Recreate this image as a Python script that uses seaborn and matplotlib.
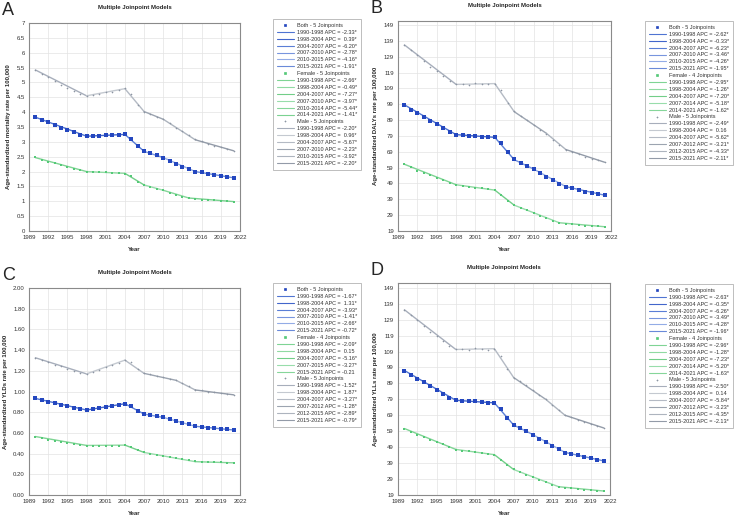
import matplotlib
matplotlib.use("Agg")
import matplotlib.pyplot as plt
from matplotlib.lines import Line2D
import seaborn as sns
import pandas as pd

# ---------------- data -------------------------------------------------
years = list(range(1990, 2022))

# A: mortality
a_both = [3.84, 3.75, 3.66, 3.57, 3.48, 3.41, 3.32, 3.24, 3.19, 3.19, 3.21, 3.23, 3.22, 3.23, 3.25, 3.11,
          2.85, 2.68, 2.62, 2.55, 2.47, 2.36, 2.27, 2.17, 2.08, 2.00, 1.97, 1.92, 1.88, 1.85, 1.82, 1.79]
a_female = [2.48, 2.40, 2.33, 2.28, 2.22, 2.17, 2.10, 2.04, 2.00, 1.99, 1.98, 1.97, 1.96, 1.95, 1.93, 1.84,
            1.66, 1.55, 1.49, 1.43, 1.37, 1.29, 1.22, 1.16, 1.10, 1.08, 1.06, 1.05, 1.03, 1.02, 1.01, 0.99]
a_male = [5.42, 5.30, 5.18, 5.04, 4.93, 4.82, 4.72, 4.62, 4.56, 4.57, 4.62, 4.68, 4.68, 4.73, 4.80, 4.62,
          4.25, 4.02, 3.93, 3.84, 3.76, 3.62, 3.48, 3.35, 3.22, 3.08, 3.02, 2.94, 2.87, 2.82, 2.76, 2.70]
a_both_knots = [1990, 1998, 2004, 2007, 2010, 2015, 2021]
a_both_fit = [3.83, 3.19, 3.25, 2.68, 2.47, 2.00, 1.79]
a_female_knots = [1990, 1998, 2004, 2007, 2010, 2014, 2021]
a_female_fit = [2.47, 2.00, 1.94, 1.55, 1.37, 1.11, 0.99]
a_male_knots = [1990, 1998, 2004, 2007, 2010, 2015, 2021]
a_male_fit = [5.42, 4.55, 4.79, 4.02, 3.76, 3.07, 2.70]
a_both_apc = ["-2.33*", " 0.39*", "-6.20*", "-2.78*", "-4.16*", "-1.91*"]
a_female_apc = ["-2.66*", "-0.49*", "-7.27*", "-3.97*", "-5.44*", "-1.41*"]
a_male_apc = ["-2.20*", " 0.96*", "-5.67*", "-2.23*", "-3.92*", "-2.20*"]

# B: DALYs
b_both = [98.6, 95.6, 93.2, 90.7, 88.2, 86.3, 83.8, 81.3, 79.6, 79.4, 79.0, 79.2, 78.6, 78.2, 78.0, 74.4,
          68.7, 64.3, 62.2, 60.1, 58.0, 55.4, 53.3, 51.0, 48.7, 46.8, 46.0, 44.9, 43.8, 43.0, 42.2, 41.5]
b_female = [61.2, 59.2, 57.1, 55.6, 54.2, 52.7, 51.2, 49.5, 48.1, 47.4, 47.0, 46.4, 45.9, 45.3, 44.7, 41.7,
            38.0, 35.4, 33.7, 32.1, 30.6, 28.7, 27.2, 25.5, 24.3, 23.6, 23.2, 22.8, 22.4, 22.2, 21.9, 21.7]
b_male = [136.5, 133.0, 130.2, 126.0, 122.6, 119.8, 116.7, 113.7, 111.6, 111.6, 111.4, 112.5, 111.6, 111.6, 111.8, 107.8,
          99.6, 94.4, 91.8, 88.9, 86.0, 83.0, 80.5, 76.7, 73.3, 70.4, 69.1, 67.4, 65.9, 64.7, 63.6, 62.4]
b_both_knots = [1990, 1998, 2004, 2007, 2010, 2015, 2021]
b_both_fit = [98.6, 79.8, 78.1, 64.0, 58.1, 47.0, 41.6]
b_female_knots = [1990, 1998, 2004, 2007, 2014, 2021]
b_female_fit = [61.1, 48.2, 44.8, 35.3, 24.2, 21.7]
b_male_knots = [1990, 1998, 2004, 2007, 2012, 2015, 2021]
b_male_fit = [136.4, 111.5, 112.0, 94.3, 80.6, 70.4, 62.4]
b_both_apc = ["-2.62*", "-0.33*", "-6.23*", "-3.46*", "-4.26*", "-1.95*"]
b_female_apc = ["-2.95*", "-1.26*", "-7.20*", "-5.18*", "-1.62*"]
b_male_apc = ["-2.49*", " 0.16", "-5.62*", "-3.21*", "-4.33*", "-2.11*"]

# C: YLDs
c_both = [0.934, 0.918, 0.902, 0.889, 0.873, 0.860, 0.844, 0.831, 0.822, 0.828, 0.838, 0.854, 0.857, 0.870, 0.880, 0.864,
          0.812, 0.783, 0.770, 0.761, 0.751, 0.732, 0.719, 0.700, 0.684, 0.662, 0.654, 0.647, 0.643, 0.640, 0.635, 0.628]
c_female = [0.565, 0.549, 0.536, 0.526, 0.514, 0.504, 0.494, 0.485, 0.478, 0.478, 0.478, 0.478, 0.478, 0.478, 0.482, 0.460,
            0.430, 0.411, 0.398, 0.388, 0.379, 0.366, 0.356, 0.347, 0.337, 0.328, 0.322, 0.319, 0.317, 0.315, 0.313, 0.311]
c_male = [1.326, 1.307, 1.281, 1.258, 1.242, 1.220, 1.200, 1.181, 1.169, 1.188, 1.207, 1.239, 1.252, 1.278, 1.303, 1.287,
          1.217, 1.175, 1.165, 1.152, 1.140, 1.124, 1.111, 1.085, 1.053, 1.018, 1.011, 0.998, 0.992, 0.986, 0.979, 0.970]
c_both_knots = [1990, 1998, 2004, 2007, 2010, 2015, 2021]
c_both_fit = [0.933, 0.821, 0.882, 0.782, 0.750, 0.664, 0.628]
c_female_knots = [1990, 1998, 2004, 2007, 2015, 2021]
c_female_fit = [0.565, 0.479, 0.482, 0.411, 0.322, 0.311]
c_male_knots = [1990, 1998, 2004, 2007, 2012, 2015, 2021]
c_male_fit = [1.326, 1.170, 1.303, 1.175, 1.108, 1.015, 0.968]
c_both_apc = ["-1.67*", " 1.31*", "-3.93*", "-1.41*", "-2.66*", "-0.72*"]
c_female_apc = ["-2.09*", " 0.15", "-5.16*", "-3.27*", "-0.21"]
c_male_apc = ["-1.52*", " 1.87*", "-3.27*", "-1.28*", "-2.89*", "-0.79*"]

# D: YLLs
d_both = [97.1, 94.4, 91.9, 89.6, 87.1, 85.1, 82.6, 80.0, 78.4, 78.2, 77.7, 77.9, 77.3, 76.9, 76.7, 72.9,
          67.3, 62.9, 61.1, 59.0, 56.9, 54.2, 52.1, 49.8, 47.6, 45.6, 44.8, 43.8, 42.7, 41.9, 41.0, 40.4]
d_female = [60.7, 58.8, 56.7, 55.2, 53.8, 52.3, 50.7, 49.0, 47.5, 46.9, 46.4, 45.7, 45.3, 44.7, 44.3, 41.1,
            37.6, 35.1, 33.4, 31.7, 30.3, 28.6, 27.2, 25.5, 24.2, 23.6, 23.2, 22.8, 22.3, 21.9, 21.7, 21.5]
d_male = [135.2, 131.9, 128.8, 124.8, 121.5, 118.6, 115.4, 112.5, 110.3, 110.3, 110.1, 111.2, 110.3, 110.1, 110.3, 106.1,
          98.2, 92.7, 90.6, 87.7, 84.6, 81.6, 79.0, 75.5, 72.1, 69.0, 68.0, 66.3, 64.8, 63.6, 62.3, 61.1]
d_both_knots = [1990, 1998, 2004, 2007, 2010, 2015, 2021]
d_both_fit = [97.1, 78.4, 76.8, 62.9, 56.9, 45.7, 40.4]
d_female_knots = [1990, 1998, 2004, 2007, 2014, 2021]
d_female_fit = [60.7, 47.6, 44.3, 35.0, 24.2, 21.5]
d_male_knots = [1990, 1998, 2004, 2007, 2012, 2015, 2021]
d_male_fit = [135.2, 110.3, 110.8, 92.7, 79.0, 69.0, 61.1]
d_both_apc = ["-2.63*", "-0.35*", "-6.26*", "-3.49*", "-4.28*", "-1.96*"]
d_female_apc = ["-2.96*", "-1.28*", "-7.23*", "-5.20*", "-1.63*"]
d_male_apc = ["-2.50*", " 0.14", "-5.84*", "-3.23*", "-4.35*", "-2.13*"]

x_ticks = list(range(1989, 2023, 3))
# -----------------------------------------------------------------------

sns.set_style("white")
plt.rcParams["font.family"] = ["Liberation Sans", "DejaVu Sans"]

blue_dot = "#2447bf"
green_dot = "#55c978"
gray_dot = "#8c95a3"
blue_lines = ["#4f74d2", "#4266cb", "#5a7ed6", "#7895de", "#93ace6", "#6a8ad9"]
green_lines = ["#7fd494", "#90daa2", "#72ce88", "#98ddab", "#86d69a", "#7bd291"]
gray_lines = ["#a7aebb", "#c4c9d0", "#b4bac4", "#9ca4b0", "#adb4be", "#939ba8"]

panels = [
    dict(letter="A", ylabel="Age-standardized mortality rate per 100,000",
         ylim=(0, 7), yticks=[0, 0.5, 1, 1.5, 2, 2.5, 3, 3.5, 4, 4.5, 5, 5.5, 6, 6.5, 7], yfmt="{:g}",
         pos=(29, 23, 240, 231), leg=(273, 19),
         both=a_both, female=a_female, male=a_male,
         fits=[(a_both_knots, a_both_fit, a_both_apc), (a_female_knots, a_female_fit, a_female_apc),
               (a_male_knots, a_male_fit, a_male_apc)]),
    dict(letter="B", ylabel="Age-standardized DALYs rate per 100,000",
         ylim=(19, 151.5), yticks=list(range(19, 150, 10)), yfmt="{:g}",
         pos=(398, 21, 611, 231), leg=(645, 21),
         both=b_both, female=b_female, male=b_male,
         fits=[(b_both_knots, b_both_fit, b_both_apc), (b_female_knots, b_female_fit, b_female_apc),
               (b_male_knots, b_male_fit, b_male_apc)]),
    dict(letter="C", ylabel="Age-standardized YLDs rate per 100,000",
         ylim=(0, 2), yticks=[0, 0.2, 0.4, 0.6, 0.8, 1.0, 1.2, 1.4, 1.6, 1.8, 2.0], yfmt="{:.2f}",
         pos=(29, 288, 240, 495), leg=(273, 283),
         both=c_both, female=c_female, male=c_male,
         fits=[(c_both_knots, c_both_fit, c_both_apc), (c_female_knots, c_female_fit, c_female_apc),
               (c_male_knots, c_male_fit, c_male_apc)]),
    dict(letter="D", ylabel="Age-standardized YLLs rate per 100,000",
         ylim=(19, 152), yticks=list(range(19, 150, 10)), yfmt="{:g}",
         pos=(398, 283, 610, 495), leg=(645, 284),
         both=d_both, female=d_female, male=d_male,
         fits=[(d_both_knots, d_both_fit, d_both_apc), (d_female_knots, d_female_fit, d_female_apc),
               (d_male_knots, d_male_fit, d_male_apc)]),
]

W, H = 735, 517
fig = plt.figure(figsize=(W / 100, H / 100), dpi=100)

group_names = ["Both", "Female", "Male"]
dot_colors = [blue_dot, green_dot, gray_dot]
line_sets = [blue_lines, green_lines, gray_lines]
markers = ["s", "s", "+"]
msizes = [5.5, 3.5, 3.5]

for p in panels:
    x0, y0, x1, y1 = p["pos"]
    ax = fig.add_axes([x0 / W, 1 - y1 / H, (x1 - x0) / W, (y1 - y0) / H])

    handles, labels = [], []
    for gi, (name, obs) in enumerate(zip(group_names, [p["both"], p["female"], p["male"]])):
        knots, fit, apc = p["fits"][gi]
        df = pd.DataFrame({"year": years, "rate": obs})
        # fitted joinpoint segments
        for si in range(len(knots) - 1):
            seg = pd.DataFrame({"year": knots[si:si + 2], "rate": fit[si:si + 2]})
            sns.lineplot(data=seg, x="year", y="rate", ax=ax, color=line_sets[gi][si % 6],
                         linewidth=1.0, estimator=None, sort=False, legend=False, zorder=2)
        # observed points
        sns.scatterplot(data=df, x="year", y="rate", ax=ax, color=dot_colors[gi], marker=markers[gi],
                        s=msizes[gi], linewidth=0.4 if markers[gi] == "+" else 0,
                        edgecolor=dot_colors[gi], legend=False, zorder=3)

        handles.append(Line2D([], [], ls="none", marker=markers[gi], ms=1.8, color=dot_colors[gi], mew=0.5))
        labels.append(f"{name} - {len(knots) - 2} Joinpoints")
        for si in range(len(knots) - 1):
            handles.append(Line2D([], [], color=line_sets[gi][si % 6], lw=0.8))
            labels.append(f"{knots[si]}-{knots[si + 1]} APC = {apc[si]}")

    ax.set_xlim(1989, 2022)
    ax.set_ylim(*p["ylim"])
    ax.set_xticks(x_ticks)
    ax.set_yticks(p["yticks"])
    ax.set_yticklabels([p["yfmt"].format(v) for v in p["yticks"]])
    ax.grid(True, color="#e3e3e3", lw=0.5)
    ax.tick_params(labelsize=4.3, length=1.5, width=0.4, color="#888888", pad=1.5, labelcolor="#333333")
    for s in ax.spines.values():
        s.set_color("#8a8a8a")
        s.set_linewidth(0.8)
    ax.set_xlabel("Year", fontsize=4.3, fontweight="bold", labelpad=5)
    ax.set_ylabel(p["ylabel"], fontsize=4.3, fontweight="bold", labelpad=4)
    ax.set_title("Multiple Joinpoint Models", fontsize=4.3, fontweight="bold", pad=10)

    lx, ly = p["leg"]
    leg = ax.legend(handles, labels, loc="upper left", bbox_to_anchor=(lx / W, 1 - ly / H),
                    bbox_transform=fig.transFigure, fontsize=4, frameon=True, fancybox=False,
                    edgecolor="#a0a0a0", borderpad=0.7, labelspacing=0.34, handlelength=3.0,
                    handletextpad=0.6, borderaxespad=0)
    leg.get_frame().set_linewidth(0.6)
    for t in leg.get_texts():
        t.set_color("#333333")

    fig.text((x0 - 27) / W, 1 - (y0 - 21) / H, p["letter"], fontsize=13, va="top", ha="left")

fig.savefig("out.png", dpi=100)
